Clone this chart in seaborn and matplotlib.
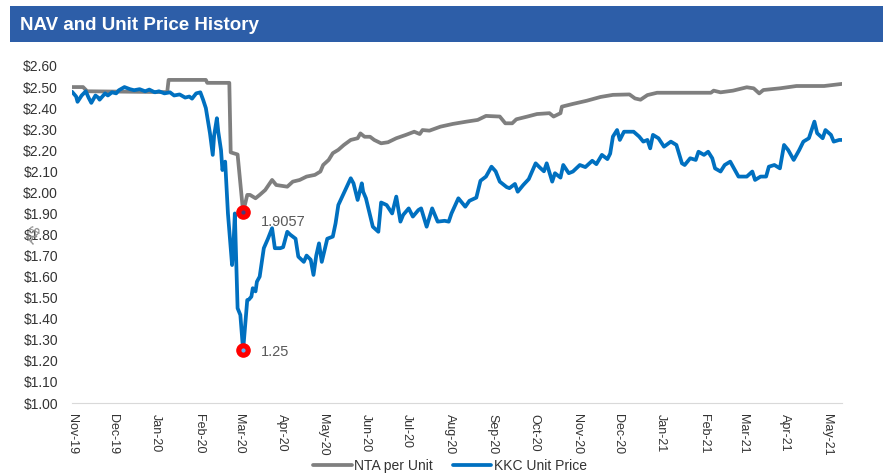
import matplotlib
matplotlib.use('Agg')
import matplotlib.pyplot as plt
import matplotlib.dates as mdates
import matplotlib.ticker as mticker
from matplotlib.patches import Rectangle
import seaborn as sns
import pandas as pd

sns.set_style('white')
plt.rcParams['font.family'] = ['Liberation Sans', 'DejaVu Sans']

# NTA per unit (grey line)
nta_dates = ['2019-11-01', '2019-11-09', '2019-11-12', '2020-01-09', '2020-01-10', '2020-02-06',
             '2020-02-07', '2020-02-23', '2020-02-24', '2020-02-29', '2020-03-04', '2020-03-07',
             '2020-03-09', '2020-03-13', '2020-03-16', '2020-03-20', '2020-03-25', '2020-03-28',
             '2020-04-05', '2020-04-09', '2020-04-14', '2020-04-19', '2020-04-25', '2020-04-29',
             '2020-05-01', '2020-05-05', '2020-05-08', '2020-05-12', '2020-05-16', '2020-05-21',
             '2020-05-26', '2020-05-28', '2020-05-31', '2020-06-04', '2020-06-07', '2020-06-12',
             '2020-06-17', '2020-06-23', '2020-06-30', '2020-07-06', '2020-07-10', '2020-07-12',
             '2020-07-17', '2020-07-25', '2020-08-03', '2020-08-13', '2020-08-21', '2020-08-27',
             '2020-09-06', '2020-09-10', '2020-09-15', '2020-09-18', '2020-09-26', '2020-10-03',
             '2020-10-12', '2020-10-15', '2020-10-20', '2020-10-21', '2020-10-29', '2020-11-08',
             '2020-11-18', '2020-11-27', '2020-12-09', '2020-12-13', '2020-12-17', '2020-12-22',
             '2020-12-29', '2021-02-06', '2021-02-08', '2021-02-13', '2021-02-22', '2021-03-04',
             '2021-03-09', '2021-03-13', '2021-03-16', '2021-03-28', '2021-04-09', '2021-04-29',
             '2021-05-12']
nta_values = [2.50, 2.50, 2.48, 2.476, 2.534, 2.534,
              2.52, 2.52, 2.19, 2.18, 1.9057, 1.988,
              1.988, 1.972, 1.988, 2.011, 2.059, 2.035,
              2.027, 2.051, 2.059, 2.075, 2.083, 2.099,
              2.13, 2.154, 2.186, 2.202, 2.225, 2.249,
              2.257, 2.28, 2.264, 2.264, 2.249, 2.233,
              2.238, 2.257, 2.273, 2.288, 2.277, 2.296,
              2.293, 2.312, 2.325, 2.336, 2.344, 2.363,
              2.36, 2.328, 2.328, 2.347, 2.36, 2.372,
              2.376, 2.36, 2.376, 2.407, 2.42, 2.435,
              2.453, 2.463, 2.465, 2.446, 2.44, 2.462,
              2.473, 2.473, 2.483, 2.475, 2.483, 2.499,
              2.494, 2.47, 2.486, 2.494, 2.505, 2.505,
              2.515]

# KKC unit price (blue line)
kkc_dates = ['2019-11-01', '2019-11-04', '2019-11-05', '2019-11-08', '2019-11-11', '2019-11-13',
             '2019-11-15', '2019-11-18', '2019-11-20', '2019-11-21', '2019-11-25', '2019-11-27',
             '2019-11-30', '2019-12-03', '2019-12-05', '2019-12-09', '2019-12-13', '2019-12-16',
             '2019-12-20', '2019-12-24', '2019-12-27', '2019-12-31', '2020-01-03', '2020-01-07',
             '2020-01-11', '2020-01-14', '2020-01-18', '2020-01-22', '2020-01-25', '2020-01-27',
             '2020-01-30', '2020-02-02', '2020-02-04', '2020-02-06', '2020-02-09', '2020-02-11',
             '2020-02-12', '2020-02-14', '2020-02-15', '2020-02-17', '2020-02-18', '2020-02-20',
             '2020-02-22', '2020-02-25', '2020-02-26', '2020-02-27', '2020-02-29', '2020-03-02',
             '2020-03-04', '2020-03-07', '2020-03-08', '2020-03-10', '2020-03-11', '2020-03-13',
             '2020-03-14', '2020-03-16', '2020-03-19', '2020-03-22', '2020-03-25', '2020-03-27',
             '2020-03-31', '2020-04-02', '2020-04-05', '2020-04-07', '2020-04-11', '2020-04-13',
             '2020-04-17', '2020-04-19', '2020-04-22', '2020-04-24', '2020-04-26', '2020-04-28',
             '2020-04-30', '2020-05-04', '2020-05-08', '2020-05-10', '2020-05-12', '2020-05-16',
             '2020-05-21', '2020-05-23', '2020-05-26', '2020-05-29', '2020-05-30', '2020-06-01',
             '2020-06-06', '2020-06-10', '2020-06-12', '2020-06-16', '2020-06-20', '2020-06-23',
             '2020-06-26', '2020-06-28', '2020-07-02', '2020-07-05', '2020-07-09', '2020-07-11',
             '2020-07-15', '2020-07-19', '2020-07-23', '2020-07-28', '2020-07-31', '2020-08-02',
             '2020-08-07', '2020-08-12', '2020-08-15', '2020-08-20', '2020-08-23', '2020-08-27',
             '2020-08-31', '2020-09-03', '2020-09-06', '2020-09-11', '2020-09-13', '2020-09-17',
             '2020-09-19', '2020-09-23', '2020-09-27', '2020-10-02', '2020-10-05', '2020-10-08',
             '2020-10-10', '2020-10-14', '2020-10-16', '2020-10-20', '2020-10-22', '2020-10-26',
             '2020-10-29', '2020-11-03', '2020-11-07', '2020-11-12', '2020-11-15', '2020-11-19',
             '2020-11-23', '2020-11-25', '2020-11-27', '2020-11-30', '2020-12-02', '2020-12-05',
             '2020-12-12', '2020-12-16', '2020-12-19', '2020-12-22', '2020-12-24', '2020-12-26',
             '2020-12-30', '2021-01-03', '2021-01-08', '2021-01-12', '2021-01-16', '2021-01-18',
             '2021-01-22', '2021-01-26', '2021-01-28', '2021-02-01', '2021-02-04', '2021-02-07',
             '2021-02-09', '2021-02-13', '2021-02-16', '2021-02-20', '2021-02-24', '2021-02-26',
             '2021-03-04', '2021-03-08', '2021-03-10', '2021-03-14', '2021-03-18', '2021-03-20',
             '2021-03-24', '2021-03-28', '2021-03-31', '2021-04-03', '2021-04-07', '2021-04-11',
             '2021-04-14', '2021-04-18', '2021-04-22', '2021-04-24', '2021-04-28', '2021-04-30',
             '2021-05-04', '2021-05-06', '2021-05-10', '2021-05-12']
kkc_values = [2.478, 2.455, 2.43, 2.46, 2.48, 2.45,
              2.425, 2.46, 2.45, 2.44, 2.47, 2.46,
              2.475, 2.47, 2.485, 2.50, 2.49, 2.485,
              2.49, 2.48, 2.488, 2.475, 2.48, 2.47,
              2.475, 2.46, 2.465, 2.45, 2.455, 2.445,
              2.47, 2.475, 2.44, 2.40, 2.28, 2.178,
              2.27, 2.352, 2.288, 2.20, 2.106, 2.146,
              1.90, 1.655, 1.75, 1.90, 1.45, 1.418,
              1.25, 1.489, 1.49, 1.505, 1.545, 1.53,
              1.576, 1.60, 1.735, 1.78, 1.83, 1.735,
              1.735, 1.74, 1.813, 1.80, 1.78, 1.695,
              1.67, 1.70, 1.68, 1.608, 1.70, 1.758,
              1.67, 1.78, 1.79, 1.853, 1.94, 1.996,
              2.067, 2.043, 1.964, 2.043, 2.003, 1.972,
              1.837, 1.813, 1.952, 1.94, 1.90, 1.98,
              1.861, 1.893, 1.924, 1.885, 1.916, 1.924,
              1.837, 1.924, 1.861, 1.865, 1.861, 1.90,
              1.972, 1.932, 1.96, 1.975, 2.055, 2.075,
              2.122, 2.10, 2.051, 2.025, 2.02, 2.04,
              2.003, 2.035, 2.063, 2.138, 2.118, 2.10,
              2.138, 2.051, 2.091, 2.07, 2.13, 2.091,
              2.099, 2.13, 2.12, 2.15, 2.134, 2.178,
              2.158, 2.184, 2.265, 2.296, 2.249, 2.288,
              2.288, 2.265, 2.241, 2.249, 2.209, 2.273,
              2.257, 2.217, 2.241, 2.225, 2.138, 2.13,
              2.162, 2.154, 2.193, 2.178, 2.193, 2.162,
              2.114, 2.099, 2.13, 2.146, 2.099, 2.075,
              2.075, 2.099, 2.059, 2.075, 2.075, 2.122,
              2.13, 2.114, 2.225, 2.201, 2.154, 2.201,
              2.241, 2.257, 2.336, 2.281, 2.257, 2.296,
              2.273, 2.241, 2.249, 2.249]

low_date = '2020-03-04'
nta_low = 1.9057
kkc_low = 1.25

series_names = ['NTA per Unit', 'KKC Unit Price']
series_colors = ['#7f7f7f', '#0070c0']

df = pd.concat([
    pd.DataFrame({'Date': pd.to_datetime(nta_dates), 'Price': nta_values, 'Series': series_names[0]}),
    pd.DataFrame({'Date': pd.to_datetime(kkc_dates), 'Price': kkc_values, 'Series': series_names[1]}),
])

fig = plt.figure(figsize=(8.83, 4.76), dpi=100)
ax = fig.add_axes([72 / 883, 1 - 403 / 476, 770 / 883, 337 / 476])

# title bar
fig.patches.append(Rectangle((10 / 883, 1 - 42 / 476), 1, 36 / 476, transform=fig.transFigure,
                             facecolor='#2d5ea8', edgecolor='none', zorder=0))
fig.text(20 / 883, 1 - 25 / 476, 'NAV and Unit Price History', color='white', fontsize=13.5,
         fontweight='bold', va='center', ha='left', family=['Liberation Sans', 'DejaVu Sans'])

sns.lineplot(data=df, x='Date', y='Price', hue='Series', hue_order=series_names,
             palette=dict(zip(series_names, series_colors)), linewidth=2.7,
             estimator=None, legend=False, ax=ax)

# low point markers
low_x = pd.to_datetime(low_date)
ax.plot([low_x, low_x], [nta_low, kkc_low], 'o', color='#ff0000', markersize=9.5, zorder=5)
ax.plot([low_x], [nta_low], 'o', color='#4b3a7a', markersize=2, zorder=6)
ax.plot([low_x], [kkc_low], 'o', color='#5ab4ff', markersize=2, zorder=6)
ax.annotate('1.9057', xy=(low_x, nta_low), xytext=(12.5, -7), textcoords='offset points',
            va='center', ha='left', fontsize=10.5, color='#595959')
ax.annotate('1.25', xy=(low_x, kkc_low), xytext=(12.5, -1.5), textcoords='offset points',
            va='center', ha='left', fontsize=10.5, color='#595959')

# axes styling
ax.set_ylim(1.0, 2.6)
ax.yaxis.set_major_locator(mticker.MultipleLocator(0.1))
ax.yaxis.set_major_formatter(mticker.FuncFormatter(lambda v, p: '${:.2f}'.format(v)))
ax.set_xlim(pd.to_datetime('2019-11-01'), pd.to_datetime('2021-05-12'))
ax.xaxis.set_major_locator(mdates.MonthLocator())
ax.xaxis.set_major_formatter(mdates.DateFormatter('%b-%y'))
ax.tick_params(axis='y', length=0, pad=10, labelsize=10, labelcolor='#333333')
ax.tick_params(axis='x', length=4, width=0.8, color='#d9d9d9', pad=4, labelsize=9,
               labelcolor='#333333', direction='out')
plt.setp(ax.get_xticklabels(), rotation=270, ha='center', va='top')
for side in ['top', 'right', 'left']:
    ax.spines[side].set_visible(False)
ax.spines['bottom'].set_color('#d9d9d9')
ax.spines['bottom'].set_linewidth(0.8)
ax.set_xlabel('')
ax.set_ylabel('')
ax.grid(False)

# stray rotated axis label
fig.text(34 / 883, 1 - 234 / 476, 'A$', rotation=65, color='#8c8c8c', fontsize=11,
         ha='center', va='center')

fig.legend(handles=ax.get_lines()[:2], labels=series_names, loc='center',
           bbox_to_anchor=(450 / 883, 1 - 466 / 476), ncol=2, frameon=False, fontsize=10,
           handlelength=2.8, handletextpad=0.2, columnspacing=1.4)
for text in fig.legends[0].get_texts():
    text.set_color('#333333')

fig.savefig('out.png', dpi=100)
